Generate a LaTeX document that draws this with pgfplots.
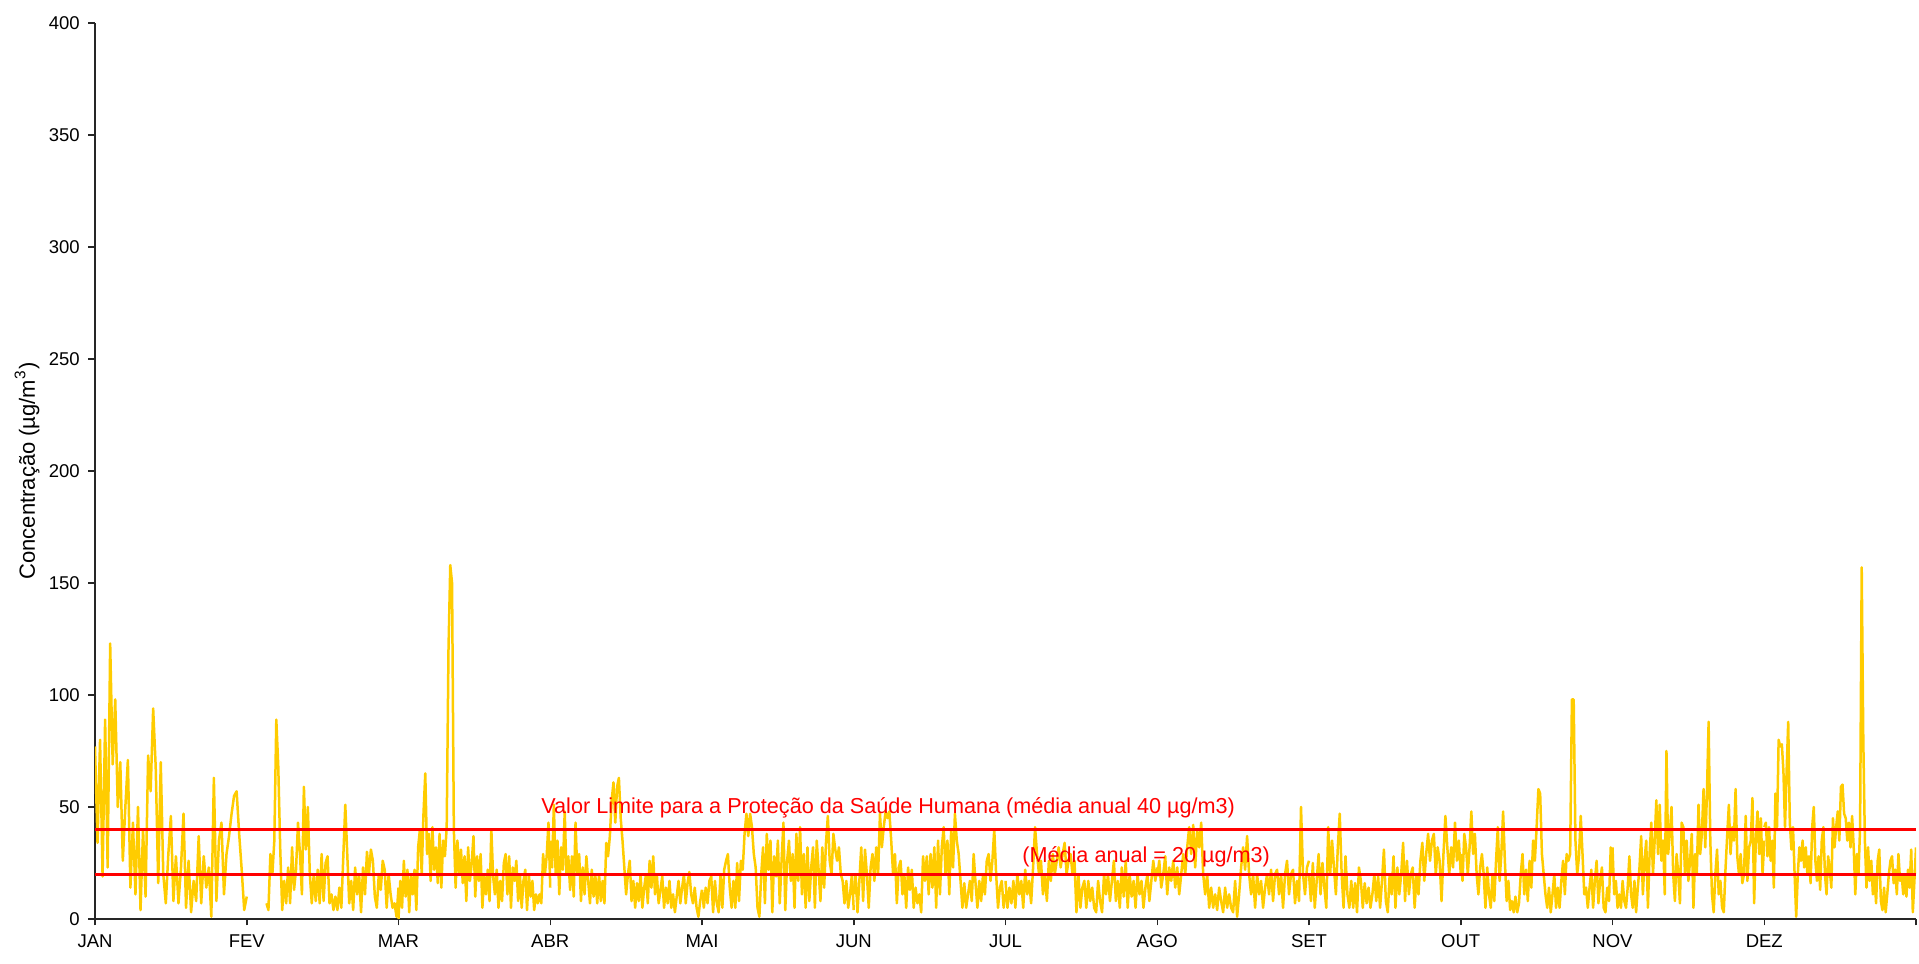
\documentclass[border=0pt]{standalone}
\usepackage{fontspec}
\setmainfont{Liberation Sans}
\usepackage{pgfplots}
\usepackage{pgfplotstable}
\pgfplotsset{compat=1.18}
\usetikzlibrary{calc}
\definecolor{serie}{HTML}{FFCC00}
\definecolor{limite}{HTML}{FF0000}

% hourly concentration, read month by month (values in ug/m3)
\pgfplotstableread[header=false,row sep=\\]{77\\34\\80\\19\\89\\23\\123\\69\\98\\50\\70\\26\\50\\71\\14\\43\\11\\50\\4\\40\\10\\73\\57\\94\\68\\16\\70\\20\\7\\29\\46\\8\\28\\7\\23\\47\\5\\26\\3\\17\\8\\37\\7\\28\\14\\23\\1\\63\\8\\35\\43\\11\\29\\37\\47\\55\\57\\38\\22\\4\\10\\}\tJan
\pgfplotstableread[header=false,row sep=\\]{3\\nan\\nan\\nan\\nan\\nan\\nan\\nan\\nan\\nan\\7\\4\\29\\20\\35\\89\\68\\31\\4\\17\\7\\23\\7\\32\\13\\22\\43\\29\\11\\59\\31\\50\\20\\7\\20\\8\\22\\7\\29\\8\\25\\28\\7\\11\\4\\10\\4\\14\\5\\28\\51\\29\\7\\17\\4\\23\\11\\20\\3\\23\\11\\30\\20\\31\\26\\10\\5\\20\\13\\26\\22\\5\\20\\11\\5\\7\\1\\14\\}\tFev
\pgfplotstableread[header=false,row sep=\\]{0\\17\\5\\26\\10\\22\\3\\20\\11\\22\\4\\32\\40\\20\\47\\65\\29\\38\\17\\41\\22\\32\\16\\38\\14\\35\\28\\41\\120\\158\\150\\40\\14\\35\\20\\31\\16\\28\\8\\32\\17\\25\\37\\10\\28\\17\\29\\5\\20\\11\\22\\8\\40\\19\\11\\22\\5\\17\\8\\25\\29\\11\\28\\5\\23\\17\\26\\8\\20\\5\\17\\22\\4\\20\\10\\17\\4\\11\\7\\11\\7\\29\\20\\28\\43\\14\\}\tMar
\pgfplotstableread[header=false,row sep=\\]{35\\23\\51\\20\\35\\11\\32\\22\\48\\20\\28\\13\\28\\10\\43\\20\\29\\8\\23\\11\\28\\17\\7\\22\\10\\19\\7\\20\\8\\17\\7\\34\\28\\37\\53\\61\\43\\59\\63\\45\\35\\23\\11\\20\\26\\8\\17\\5\\16\\8\\20\\5\\14\\20\\7\\26\\14\\28\\11\\20\\7\\13\\19\\5\\14\\7\\17\\5\\11\\3\\10\\17\\7\\14\\20\\7\\16\\21\\11\\7\\14\\5\\1\\8\\13\\}\tAbr
\pgfplotstableread[header=false,row sep=\\]{13\\5\\14\\7\\17\\19\\3\\17\\7\\3\\20\\5\\22\\26\\29\\14\\5\\17\\5\\25\\8\\26\\22\\38\\47\\37\\47\\41\\29\\23\\5\\1\\20\\32\\7\\38\\22\\35\\3\\28\\19\\35\\7\\26\\43\\4\\26\\35\\17\\29\\5\\38\\17\\41\\11\\29\\5\\32\\8\\23\\32\\5\\35\\22\\8\\32\\14\\34\\46\\26\\20\\38\\31\\26\\32\\20\\17\\7\\17\\5\\11\\20\\4\\}\tMai
\pgfplotstableread[header=false,row sep=\\]{11\\20\\3\\17\\32\\8\\31\\20\\5\\23\\29\\17\\32\\20\\47\\32\\41\\48\\45\\48\\35\\20\\29\\7\\23\\26\\11\\20\\5\\23\\13\\22\\5\\14\\7\\11\\3\\28\\17\\28\\11\\29\\14\\32\\5\\35\\11\\32\\41\\20\\35\\11\\40\\23\\47\\35\\29\\17\\5\\16\\5\\11\\17\\8\\29\\16\\5\\17\\8\\20\\11\\26\\29\\17\\26\\40\\20\\5\\14\\17\\5\\11\\}\tJun
\pgfplotstableread[header=false,row sep=\\]{17\\5\\14\\7\\17\\5\\20\\11\\17\\5\\22\\11\\17\\7\\23\\41\\29\\20\\26\\11\\20\\8\\26\\17\\29\\20\\26\\32\\23\\29\\34\\20\\26\\29\\20\\26\\3\\20\\5\\14\\17\\5\\17\\8\\14\\5\\3\\17\\8\\3\\20\\11\\20\\8\\17\\26\\8\\17\\5\\23\\10\\26\\5\\20\\10\\17\\5\\20\\11\\17\\5\\14\\20\\8\\17\\26\\17\\23\\}\tJul
\pgfplotstableread[header=false,row sep=\\]{19\\26\\14\\20\\28\\11\\23\\17\\26\\14\\23\\11\\20\\29\\20\\32\\41\\29\\42\\23\\40\\32\\43\\20\\11\\20\\5\\14\\5\\11\\4\\14\\8\\3\\14\\5\\11\\5\\3\\17\\1\\11\\23\\32\\22\\37\\20\\11\\20\\5\\20\\11\\17\\5\\14\\20\\11\\22\\8\\20\\22\\11\\20\\5\\20\\26\\11\\20\\22\\7\\17\\8\\50\\20\\11\\23\\26\\}\tAgo
\pgfplotstableread[header=false,row sep=\\]{20\\8\\25\\5\\17\\29\\11\\25\\14\\5\\41\\20\\35\\23\\11\\32\\47\\20\\5\\28\\11\\5\\17\\5\\16\\3\\23\\17\\5\\16\\7\\14\\5\\11\\20\\8\\19\\5\\17\\31\\8\\3\\20\\11\\28\\5\\23\\11\\20\\34\\8\\26\\11\\20\\23\\5\\20\\11\\26\\34\\17\\29\\38\\26\\35\\38\\20\\32\\26\\8\\29\\46\\32\\20\\32\\23\\43\\26\\35\\20\\}\tSet
\pgfplotstableread[header=false,row sep=\\]{29\\17\\38\\32\\20\\32\\48\\29\\38\\20\\11\\23\\29\\20\\5\\23\\11\\5\\20\\8\\26\\41\\17\\29\\48\\26\\8\\17\\4\\8\\3\\10\\3\\7\\20\\29\\11\\22\\8\\26\\14\\35\\26\\41\\58\\56\\29\\20\\11\\5\\14\\3\\11\\20\\5\\14\\5\\17\\26\\11\\29\\26\\29\\98\\98\\35\\20\\28\\46\\29\\11\\14\\5\\14\\22\\5\\17\\26\\7\\17\\23\\5\\3\\14\\8\\32\\20\\}\tOut
\pgfplotstableread[header=false,row sep=\\]{32\\11\\17\\5\\11\\5\\17\\8\\5\\14\\28\\11\\5\\17\\3\\14\\23\\37\\11\\26\\35\\5\\29\\43\\20\\35\\53\\29\\51\\26\\35\\11\\75\\29\\38\\50\\20\\8\\29\\20\\7\\43\\41\\20\\35\\17\\26\\38\\5\\29\\20\\51\\29\\38\\58\\32\\56\\88\\35\\11\\3\\20\\31\\11\\17\\5\\3\\22\\37\\51\\29\\41\\35\\58\\28\\20\\29\\16\\20\\46\\17\\32\\35\\54\\7\\35\\48\\29\\45\\20\\35\\}\tNov
\pgfplotstableread[header=false,row sep=\\]{41\\43\\28\\41\\26\\35\\14\\56\\41\\80\\77\\78\\66\\41\\66\\88\\43\\31\\41\\20\\1\\20\\32\\26\\35\\23\\32\\20\\28\\16\\41\\50\\26\\17\\28\\13\\35\\41\\20\\11\\28\\22\\14\\45\\32\\41\\48\\35\\59\\60\\47\\45\\35\\43\\32\\46\\32\\11\\29\\20\\41\\157\\80\\35\\14\\32\\17\\26\\11\\20\\7\\26\\31\\8\\4\\14\\3\\11\\20\\26\\28\\16\\22\\11\\29\\17\\20\\11\\20\\10\\22\\14\\31\\3\\17\\32\\}\tDez

\pgfplotstablegetrowsof{\tJan}\edef\nJan{\pgfplotsretval}
\pgfplotstablegetrowsof{\tFev}\edef\nFev{\pgfplotsretval}
\pgfplotstablegetrowsof{\tMar}\edef\nMar{\pgfplotsretval}
\pgfplotstablegetrowsof{\tAbr}\edef\nAbr{\pgfplotsretval}
\pgfplotstablegetrowsof{\tMai}\edef\nMai{\pgfplotsretval}
\pgfplotstablegetrowsof{\tJun}\edef\nJun{\pgfplotsretval}
\pgfplotstablegetrowsof{\tJul}\edef\nJul{\pgfplotsretval}
\pgfplotstablegetrowsof{\tAgo}\edef\nAgo{\pgfplotsretval}
\pgfplotstablegetrowsof{\tSet}\edef\nSet{\pgfplotsretval}
\pgfplotstablegetrowsof{\tOut}\edef\nOut{\pgfplotsretval}
\pgfplotstablegetrowsof{\tNov}\edef\nNov{\pgfplotsretval}
\pgfplotstablegetrowsof{\tDez}\edef\nDez{\pgfplotsretval}

\newcommand\mplot[3]{\addplot[serie, line width=1.0pt, line join=round, forget plot] table[x expr={#1*730+\coordindex*730/(#3-1)}, y index=0]{#2};}

\begin{document}
\begin{tikzpicture}
\begin{axis}[
  width=728.4pt, height=358.4pt, scale only axis,
  xmin=0, xmax=8760, ymin=0, ymax=400,
  axis lines*=left,
  axis line style={line width=0.6pt, black!85},
  xtick={0,730,...,8760},
  xticklabels={JAN,FEV,MAR,ABR,MAI,JUN,JUL,AGO,SET,OUT,NOV,DEZ,{}},
  ytick={0,50,...,400},
  tick align=outside, major tick length=2.6pt,
  tick style={line width=0.6pt, black!85},
  every tick label/.append style={font=\fontsize{7.4}{9}\selectfont},
  /pgf/number format/assume math mode=true,
  ylabel={Concentração (µg/m\textsuperscript{3})},
  every axis y label/.style={at={(axis description cs:-0.0373,0.5)}, rotate=90, anchor=center, font=\fontsize{8.8}{10}\selectfont},
  unbounded coords=jump,
]
\mplot{0}{\tJan}{\nJan}
\mplot{1}{\tFev}{\nFev}
\mplot{2}{\tMar}{\nMar}
\mplot{3}{\tAbr}{\nAbr}
\mplot{4}{\tMai}{\nMai}
\mplot{5}{\tJun}{\nJun}
\mplot{6}{\tJul}{\nJul}
\mplot{7}{\tAgo}{\nAgo}
\mplot{8}{\tSet}{\nSet}
\mplot{9}{\tOut}{\nOut}
\mplot{10}{\tNov}{\nNov}
\mplot{11}{\tDez}{\nDez}
\addplot[limite, line width=1.2pt] coordinates {(0,40) (8760,40)};
\addplot[limite, line width=1.2pt] coordinates {(0,20) (8760,20)};
\node[anchor=base west, text=limite, inner sep=0pt, font=\fontsize{8.65}{10}\selectfont] at (axis cs:2145,46.9) {Valor Limite para a Proteção da Saúde Humana (média anual 40 µg/m3)};
\node[anchor=base west, text=limite, inner sep=0pt, font=\fontsize{8.65}{10}\selectfont] at (axis cs:4459,25) {(Média anual = 20 µg/m3)};
\end{axis}
\pgfresetboundingbox
\path ($(current axis.south west)+(-38pt,-18pt)$) rectangle ($(current axis.north east)+(1.2pt,9.2pt)$);
\end{tikzpicture}
\end{document}
